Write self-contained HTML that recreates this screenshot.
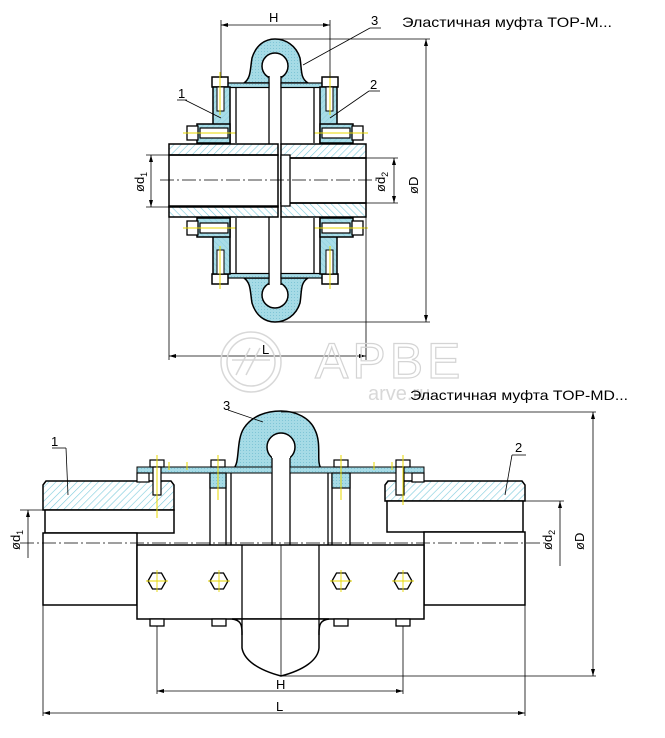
<!DOCTYPE html>
<html><head><meta charset="utf-8"><style>
body{margin:0;background:#fff}
svg{display:block}
text{font-family:"Liberation Sans","DejaVu Sans",sans-serif}
</style></head><body>
<svg width="665" height="738" viewBox="0 0 665 738" xmlns="http://www.w3.org/2000/svg">
<defs>
<pattern id="hub" width="5" height="5" patternUnits="userSpaceOnUse" patternTransform="rotate(45)">
<rect width="5" height="5" fill="#fff"/><line x1="0" y1="0" x2="0" y2="5" stroke="#7ccbdc" stroke-width="1.2"/></pattern>
<pattern id="rub" width="3" height="3" patternUnits="userSpaceOnUse">
<rect width="3" height="3" fill="#a6dbe6"/><rect width="1" height="1" fill="#7fc5d6"/></pattern>
<pattern id="fl" width="4" height="4" patternUnits="userSpaceOnUse" patternTransform="rotate(45)">
<rect width="4" height="4" fill="#a8dde8"/><line x1="0" y1="0" x2="0" y2="4" stroke="#86cddc" stroke-width="1"/></pattern>
<g id="halfTop">
 <path d="M244,83 C251,78 250,70 252,58 C256,45 265,39 275,39 C285,39 296,45 300,58 C302,70 300,78 308,83 Z" fill="url(#rub)" stroke="#000" stroke-width="1.5"/>
 <circle cx="275" cy="66" r="13" fill="#fff" stroke="#000" stroke-width="1.5"/>
 <rect x="269" y="74" width="12" height="71" fill="#fff"/>
 <line x1="269" y1="76" x2="269" y2="145" stroke="#000" stroke-width="1.3"/>
 <line x1="281" y1="76" x2="281" y2="145" stroke="#000" stroke-width="1.3"/>
 <rect x="227" y="83" width="42" height="4.5" fill="url(#rub)" stroke="#000" stroke-width="1.2"/>
 <rect x="281" y="83" width="42" height="4.5" fill="url(#rub)" stroke="#000" stroke-width="1.2"/>
 <rect x="212" y="77" width="16" height="10" fill="#fff" stroke="#000" stroke-width="1.5"/>
 <rect x="213" y="87" width="17" height="56" fill="url(#fl)" stroke="#000" stroke-width="1.5"/>
 <rect x="217" y="87" width="7" height="24" fill="#fff" stroke="#000" stroke-width="1"/>
 <line x1="220" y1="72" x2="220" y2="115" stroke="#e8d800" stroke-width="1"/>
 <rect x="197" y="124" width="33" height="19" fill="url(#fl)" stroke="#000" stroke-width="1.5"/>
 <rect x="187" y="126" width="11" height="14" fill="#fff" stroke="#000" stroke-width="1.3"/>
 <rect x="200" y="128" width="28" height="10" fill="#fff" stroke="#000" stroke-width="1.2"/>
 <line x1="183" y1="133" x2="236" y2="133" stroke="#e8d800" stroke-width="1"/>
 <line x1="236" y1="88" x2="236" y2="143" stroke="#000" stroke-width="1.3"/>
 <rect x="322" y="77" width="16" height="10" fill="#fff" stroke="#000" stroke-width="1.5"/>
 <rect x="320" y="87" width="17" height="56" fill="url(#fl)" stroke="#000" stroke-width="1.5"/>
 <rect x="326" y="87" width="7" height="24" fill="#fff" stroke="#000" stroke-width="1"/>
 <line x1="330" y1="72" x2="330" y2="115" stroke="#e8d800" stroke-width="1"/>
 <rect x="320" y="124" width="33" height="19" fill="url(#fl)" stroke="#000" stroke-width="1.5"/>
 <rect x="352" y="126" width="11" height="14" fill="#fff" stroke="#000" stroke-width="1.3"/>
 <rect x="322" y="128" width="28" height="10" fill="#fff" stroke="#000" stroke-width="1.2"/>
 <line x1="314" y1="133" x2="368" y2="133" stroke="#e8d800" stroke-width="1"/>
 <line x1="314" y1="88" x2="314" y2="143" stroke="#000" stroke-width="1.3"/>
 <rect x="169" y="144" width="109" height="11" fill="url(#hub)" stroke="#000" stroke-width="1.5"/>
 <rect x="281" y="144" width="85" height="14" fill="url(#hub)" stroke="#000" stroke-width="1.5"/>
</g>
</defs>
<use href="#halfTop"/>
<use href="#halfTop" transform="translate(0,361) scale(1,-1)"/>
<rect x="169" y="155" width="109" height="52" fill="none" stroke="#000" stroke-width="1.5"/>
<rect x="281" y="158" width="85" height="45" fill="none" stroke="#000" stroke-width="1.5"/>
<rect x="281" y="155" width="9" height="51" fill="#fff" stroke="#000" stroke-width="1.3"/>
<line x1="160" y1="180" x2="380" y2="180" stroke="#000" stroke-width="0.8" stroke-dasharray="14,3,2,3"/>
<g stroke="#000" stroke-width="0.8" fill="none">
<line x1="221" y1="20" x2="221" y2="78"/><line x1="330" y1="20" x2="330" y2="78"/>
<line x1="221" y1="25" x2="330" y2="25"/>
<line x1="275" y1="39" x2="430" y2="39"/><line x1="275" y1="322" x2="430" y2="322"/>
<line x1="426" y1="39" x2="426" y2="322"/>
<line x1="169" y1="216" x2="169" y2="360"/><line x1="366" y1="216" x2="366" y2="360"/>
<line x1="169" y1="356" x2="366" y2="356"/>
<line x1="146" y1="155" x2="169" y2="155"/><line x1="146" y1="207" x2="169" y2="207"/>
<line x1="151" y1="155" x2="151" y2="207"/>
<line x1="366" y1="158" x2="398" y2="158"/><line x1="366" y1="203" x2="398" y2="203"/>
<line x1="394" y1="158" x2="394" y2="203"/>
<line x1="303" y1="65" x2="370" y2="28"/><line x1="370" y1="28" x2="381" y2="28"/>
<line x1="221" y1="118" x2="185" y2="100"/><line x1="177" y1="100" x2="187" y2="100"/>
<line x1="330" y1="118" x2="369" y2="91"/><line x1="369" y1="91" x2="380" y2="91"/>
</g>
<g fill="#000">
<path d="M221,25 l7,-2 v4z M330,25 l-7,-2 v4z M426,39 l-2,7 h4z M426,322 l-2,-7 h4z M169,356 l7,-2 v4z M366,356 l-7,-2 v4z M151,155 l-2,7 h4z M151,207 l-2,-7 h4z M394,158 l-2,7 h4z M394,203 l-2,-7 h4z"/>
</g>
<g font-size="13">
<text x="269" y="22">H</text>
<text x="371" y="25">3</text>
<text x="178" y="98">1</text>
<text x="370" y="89">2</text>
<text x="262" y="354">L</text>
<text transform="translate(144,192) rotate(-90)">ød<tspan font-size="9" dy="3">1</tspan></text>
<text transform="translate(385,192) rotate(-90)">ød<tspan font-size="9" dy="3">2</tspan></text>
<text transform="translate(418,194) rotate(-90)">øD</text>
</g>
<text x="402" y="27" font-size="14" textLength="210" lengthAdjust="spacingAndGlyphs">Эластичная муфта TOP-M...</text>
<g fill="none" stroke="#d8d8d8" stroke-width="1.5">
<circle cx="251" cy="362" r="30"/><circle cx="251" cy="362" r="24"/>
<path d="M236,375 L250,348 M246,375 L260,348 M232,360 H270"/>
</g>
<text x="315" y="378" font-size="50" fill="none" stroke="#d4d4d4" stroke-width="1.2" letter-spacing="4">АРВЕ</text>
<text x="368" y="400" font-size="20" fill="#d8d8d8">arve.ru</text>

<text x="410" y="400" font-size="14" textLength="218" lengthAdjust="spacingAndGlyphs">Эластичная муфта  TOP-MD...</text>
<path d="M234,468 C240,462 236,440 244,428 C252,416 266,411 281,411 C296,411 310,418 315,430 C322,444 316,462 321,468 Z" fill="url(#rub)" stroke="#000" stroke-width="1.5"/>
<circle cx="281" cy="447" r="14" fill="#fff" stroke="#000" stroke-width="1.5"/>
<rect x="272" y="456" width="18" height="89" fill="#fff"/>
<line x1="272" y1="458" x2="272" y2="545" stroke="#000" stroke-width="1.3"/>
<line x1="290" y1="458" x2="290" y2="545" stroke="#000" stroke-width="1.3"/>
<rect x="137" y="467" width="135" height="6" fill="url(#rub)" stroke="#000" stroke-width="1"/>
<rect x="290" y="467" width="134" height="6" fill="url(#rub)" stroke="#000" stroke-width="1"/>
<path d="M43,485 L46,481 L171,481 L174,485 L174,510 L43,510 Z" fill="url(#hub)" stroke="#000" stroke-width="1.5"/>
<rect x="137" y="473" width="12" height="9" fill="#fff" stroke="#000" stroke-width="1.2"/>
<rect x="45" y="510" width="129" height="23" fill="#fff" stroke="#000" stroke-width="1.5"/>
<rect x="43" y="533" width="94" height="72" fill="#fff" stroke="#000" stroke-width="1.5"/>
<path d="M385,485 L388,481 L522,481 L525,485 L525,501 L385,501 Z" fill="url(#hub)" stroke="#000" stroke-width="1.5"/>
<rect x="412" y="473" width="12" height="9" fill="#fff" stroke="#000" stroke-width="1.2"/>
<rect x="387" y="501" width="136" height="31" fill="#fff" stroke="#000" stroke-width="1.5"/>
<rect x="424" y="532" width="101" height="73" fill="#fff" stroke="#000" stroke-width="1.5"/>
<g stroke="#000" stroke-width="1.3">
<line x1="210" y1="473" x2="210" y2="545"/><line x1="226" y1="473" x2="226" y2="545"/>
<line x1="231" y1="473" x2="231" y2="545"/>
<line x1="332" y1="473" x2="332" y2="545"/><line x1="350" y1="473" x2="350" y2="545"/>
<line x1="328" y1="473" x2="328" y2="545"/>
</g>
<rect x="210" y="473" width="16" height="15" fill="url(#rub)" stroke="#000" stroke-width="1.2"/>
<rect x="332" y="473" width="18" height="15" fill="url(#rub)" stroke="#000" stroke-width="1.2"/>
<g fill="#fff" stroke="#000" stroke-width="1.2">
<rect x="150" y="460" width="14" height="7"/><rect x="211" y="460" width="14" height="7"/>
<rect x="334" y="460" width="14" height="7"/><rect x="396" y="460" width="14" height="7"/>
<rect x="153" y="467" width="8" height="28"/><rect x="396" y="467" width="8" height="28"/>
</g>
<g stroke="#e8d800" stroke-width="1">
<line x1="157" y1="455" x2="157" y2="518"/><line x1="218" y1="455" x2="218" y2="500"/>
<line x1="341" y1="455" x2="341" y2="500"/><line x1="403" y1="455" x2="403" y2="505"/>
<line x1="169" y1="462" x2="169" y2="470"/><line x1="187" y1="462" x2="187" y2="470"/>
<line x1="374" y1="462" x2="374" y2="470"/><line x1="392" y1="462" x2="392" y2="470"/>
</g>
<line x1="20" y1="543" x2="545" y2="543" stroke="#000" stroke-width="0.8" stroke-dasharray="14,3,2,3"/>
<rect x="137" y="545" width="287" height="74" fill="#fff" stroke="#000" stroke-width="1.5"/>
<path d="M232,619 C240,620 242,624 242,632 L242,648 C244,660 258,670 281,676 C304,670 318,660 319,648 L319,632 C319,624 321,620 329,619 Z" fill="#fff" stroke="#000" stroke-width="1.5"/>
<line x1="242" y1="545" x2="242" y2="635" stroke="#000" stroke-width="1.3"/>
<line x1="319" y1="545" x2="319" y2="635" stroke="#000" stroke-width="1.3"/>
<line x1="281" y1="545" x2="281" y2="676" stroke="#000" stroke-width="0.8"/>
<g fill="#fff" stroke="#000" stroke-width="1.3">
<polygon points="148,581 152.5,573 161.5,573 166,581 161.5,589 152.5,589"/>
<polygon points="210,581 214.5,573 223.5,573 228,581 223.5,589 214.5,589"/>
<polygon points="332,581 336.5,573 345.5,573 350,581 345.5,589 336.5,589"/>
<polygon points="394,581 398.5,573 407.5,573 412,581 407.5,589 398.5,589"/>
<rect x="150" y="619" width="14" height="7"/><rect x="212" y="619" width="14" height="7"/>
<rect x="334" y="619" width="14" height="7"/><rect x="396" y="619" width="14" height="7"/>
</g>
<g stroke="#e8d800" stroke-width="0.9">
<line x1="146" y1="581" x2="168" y2="581"/><line x1="157" y1="570" x2="157" y2="592"/>
<line x1="208" y1="581" x2="230" y2="581"/><line x1="219" y1="570" x2="219" y2="592"/>
<line x1="330" y1="581" x2="352" y2="581"/><line x1="341" y1="570" x2="341" y2="592"/>
<line x1="392" y1="581" x2="414" y2="581"/><line x1="403" y1="570" x2="403" y2="592"/>
</g>
<g stroke="#000" stroke-width="0.8" fill="none">
<line x1="157" y1="626" x2="157" y2="694"/><line x1="403" y1="626" x2="403" y2="694"/>
<line x1="157" y1="691" x2="403" y2="691"/>
<line x1="43" y1="604" x2="43" y2="716"/><line x1="525" y1="605" x2="525" y2="716"/>
<line x1="43" y1="713" x2="525" y2="713"/>
<line x1="281" y1="412" x2="596" y2="412"/><line x1="281" y1="676" x2="596" y2="676"/>
<line x1="593" y1="412" x2="593" y2="676"/>
<line x1="20" y1="510" x2="45" y2="510"/><line x1="28" y1="510" x2="28" y2="558"/>
<line x1="525" y1="501" x2="564" y2="501"/><line x1="560" y1="501" x2="560" y2="566"/>
<line x1="68" y1="495" x2="66" y2="448"/><line x1="52" y1="448" x2="66" y2="448"/>
<line x1="505" y1="495" x2="512" y2="455"/><line x1="512" y1="455" x2="526" y2="455"/>
<line x1="263" y1="422" x2="228" y2="410"/>
</g>
<g fill="#000">
<path d="M157,691 l7,-2 v4z M403,691 l-7,-2 v4z M43,713 l7,-2 v4z M525,713 l-7,-2 v4z M593,412 l-2,7 h4z M593,676 l-2,-7 h4z M28,510 l-2,7 h4z M560,501 l-2,7 h4z"/>
</g>
<g font-size="13">
<text x="51" y="446">1</text>
<text x="515" y="452">2</text>
<text x="223" y="410">3</text>
<text x="276" y="689">H</text>
<text x="276" y="711">L</text>
<text transform="translate(20,550) rotate(-90)">ød<tspan font-size="9" dy="3">1</tspan></text>
<text transform="translate(552,550) rotate(-90)">ød<tspan font-size="9" dy="3">2</tspan></text>
<text transform="translate(584,550) rotate(-90)">øD</text>
</g>
</svg>
</body></html>
